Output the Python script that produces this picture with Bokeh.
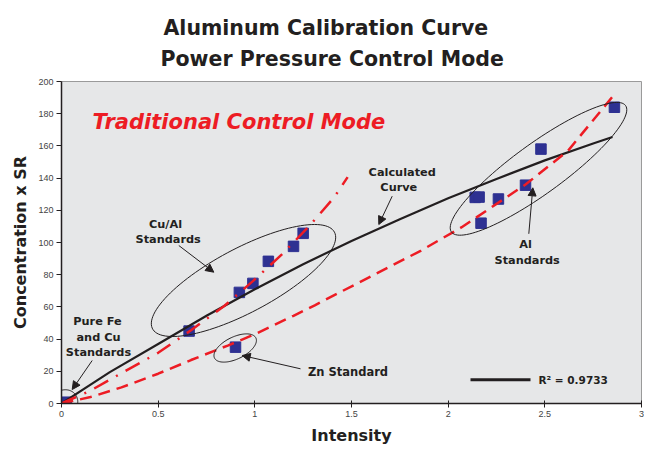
import numpy as np
from bokeh.plotting import figure
from bokeh.models import Range1d, FixedTicker, Label, Arrow, NormalHead, PolyAnnotation, Title
from bokeh.embed import file_html
from bokeh.resources import INLINE

# ---------------- data ----------------
std_intensity = [0.025, 0.66, 0.90, 0.92, 0.99, 1.07, 1.20, 1.25, 2.14, 2.16, 2.17, 2.26, 2.40, 2.48, 2.86]
std_conc = [0.8, 45.0, 35.0, 69.0, 74.6, 88.3, 97.6, 105.7, 128.0, 128.2, 112.0, 127.0, 135.6, 158.0, 184.0]

calc_x = [0, 0.25, 0.5, 0.75, 1.0, 1.25, 1.5, 1.75, 2.0, 2.25, 2.5, 2.75, 2.85]
calc_y = [0, 19.5, 37, 54.5, 71, 86.5, 101, 114.5, 127.5, 139.5, 151, 161.5, 165.5]

cual_x = [0, 0.15, 0.32, 0.5, 0.67, 0.84, 0.99, 1.14, 1.28, 1.41, 1.48]
cual_y = [0, 8, 19.5, 31.5, 45.5, 60.4, 76, 92.6, 110, 128, 140.6]

al_x = [0, 0.15, 0.31, 0.5, 0.67, 0.86, 1.01, 1.2, 1.31, 1.52, 1.86, 2.07, 2.4, 2.62, 2.86]
al_y = [0, 4, 10, 18.5, 27, 36, 43.5, 54.5, 61, 74, 95, 109.5, 136, 157, 192]

x_ticks = [0, 0.5, 1, 1.5, 2, 2.5, 3]
y_ticks = [0, 20, 40, 60, 80, 100, 120, 140, 160, 180, 200]
title_lines = ["Aluminum Calibration Curve", "Power Pressure Control Mode"]
r2_text = "R\u00b2 = 0.9733"

# ---------------- figure ----------------
W, H = 644, 456
p = figure(width=W, height=H, x_range=Range1d(0, 3), y_range=Range1d(0, 200),
           output_backend="svg", toolbar_location=None,
           min_border_left=61, min_border_right=3, min_border_top=81, min_border_bottom=53)
p.background_fill_color = "#E6E7E8"
p.border_fill_color = "white"
p.outline_line_color = "#9a9a9a"
p.grid.visible = False

INK = "#231F20"
FONT = "DejaVu Sans"

# titles (second line first: it sits nearest the frame)
p.add_layout(Title(text=title_lines[1], align="left", offset=99, standoff=22,
                   text_font=FONT, text_font_style="bold", text_font_size="20.5px",
                   text_color=INK), "above")
p.add_layout(Title(text=title_lines[0], align="left", offset=102, standoff=-13,
                   text_font=FONT, text_font_style="bold", text_font_size="20.5px",
                   text_color=INK), "above")

for ax in (p.xaxis[0], p.yaxis[0]):
    ax.axis_line_color = INK
    ax.axis_line_width = 1.5
    ax.major_tick_line_color = INK
    ax.minor_tick_line_color = None
    ax.major_label_text_font = "Liberation Sans"
    ax.major_label_text_font_size = "9px"
    ax.major_label_text_color = "#444444"
    ax.axis_label_text_font = FONT
    ax.axis_label_text_font_style = "bold"
    ax.axis_label_text_font_size = "16px"
    ax.axis_label_text_color = INK

p.xaxis.ticker = FixedTicker(ticks=x_ticks)
p.yaxis.ticker = FixedTicker(ticks=y_ticks)
p.xaxis.major_tick_out = 4
p.xaxis.major_tick_in = 3
p.yaxis.major_tick_out = 5
p.yaxis.major_tick_in = 0
p.xaxis.major_label_standoff = 3
p.yaxis.major_label_standoff = 3
p.xaxis.axis_label = "Intensity"
p.yaxis.axis_label = "Concentration x SR"
p.xaxis.axis_label_standoff = 6
p.yaxis.axis_label_standoff = 5

# reference-pixel -> data helpers for annotation placement
FL, FR, FT, FB = 61, 641, 81, 403
def X(px):
    return (np.asarray(px) - FL) / (FR - FL) * 3.0
def Y(py):
    return (FB - np.asarray(py)) / (FB - FT) * 200.0

# ---------------- marks ----------------
p.scatter(std_intensity, std_conc, marker="square", size=10.5, fill_color="#2E3192", line_color="#2E3192")
p.line(calc_x, calc_y, line_color=INK, line_width=2.2)
p.line(cual_x, cual_y, line_color="#ED1C24", line_width=2.5, line_dash="16 9 2 9")
p.line(al_x, al_y, line_color="#ED1C24", line_width=2.5, line_dash="12 7")

# ---------------- ellipses ----------------
def ellipse(cx, cy, a, b, deg):
    t = np.linspace(0, 2 * np.pi, 120)
    th = np.radians(deg)
    dx = a * np.cos(t) * np.cos(th) - b * np.sin(t) * np.sin(th)
    dy = a * np.cos(t) * np.sin(th) + b * np.sin(t) * np.cos(th)
    return list(X(cx + dx)), list(Y(cy - dy))

for (cx, cy, a, b, deg) in [(243, 280, 103, 32, 28), (538, 168.3, 107.6, 25, 36),
                            (234.7, 347.5, 23, 11, 26), (64, 402, 13.5, 12.5, 30)]:
    xs, ys = ellipse(cx, cy, a, b, deg)
    p.add_layout(PolyAnnotation(xs=xs, ys=ys, fill_color=None, fill_alpha=0,
                                line_color=INK, line_alpha=1.0, line_width=1))

# ---------------- arrows ----------------
for (x0, y0, x1, y1) in [(391.7, 195.7, 378.3, 224), (178.3, 245, 213.3, 271.7),
                         (91.7, 360, 71.7, 389), (300, 368.3, 241.7, 355),
                         (528.3, 233.3, 532.3, 187.3)]:
    p.add_layout(Arrow(end=NormalHead(size=8, fill_color=INK, line_color=INK, line_width=1),
                       x_start=float(X(x0)), y_start=float(Y(y0)),
                       x_end=float(X(x1)), y_end=float(Y(y1)),
                       line_color=INK, line_width=1))

# ---------------- texts ----------------
def label(txt, px, py, size, color=INK, style="bold", align="center"):
    p.add_layout(Label(x=float(X(px)), y=float(Y(py)), text=txt, text_align=align,
                       text_baseline="middle", text_font=FONT, text_font_style=style,
                       text_font_size=size, text_color=color))

label("Traditional Control Mode", 92, 121, "21px", color="#ED1C24", style="bold italic", align="left")
label("Calculated", 401.7, 171.7, "11.3px")
label("Curve", 398.3, 186.7, "11.3px")
label("Cu/Al", 165, 224, "11.3px")
label("Standards", 167.7, 239, "11.3px")
label("Pure Fe", 97, 321, "11.3px")
label("and Cu", 98, 337, "11.3px")
label("Standards", 98, 352, "11.3px")
label("Zn Standard", 347.5, 371, "11.5px")
label("Al", 525, 244.3, "11.3px")
label("Standards", 526.7, 260, "11.3px")

# legend
p.segment(x0=[float(X(470))], y0=[float(Y(379.3))], x1=[float(X(530))], y1=[float(Y(379.3))],
          line_color=INK, line_width=3)
label(r2_text, 538, 379.3, "10.5px", align="left")

open("out.html", "w").write(file_html(p, INLINE))
